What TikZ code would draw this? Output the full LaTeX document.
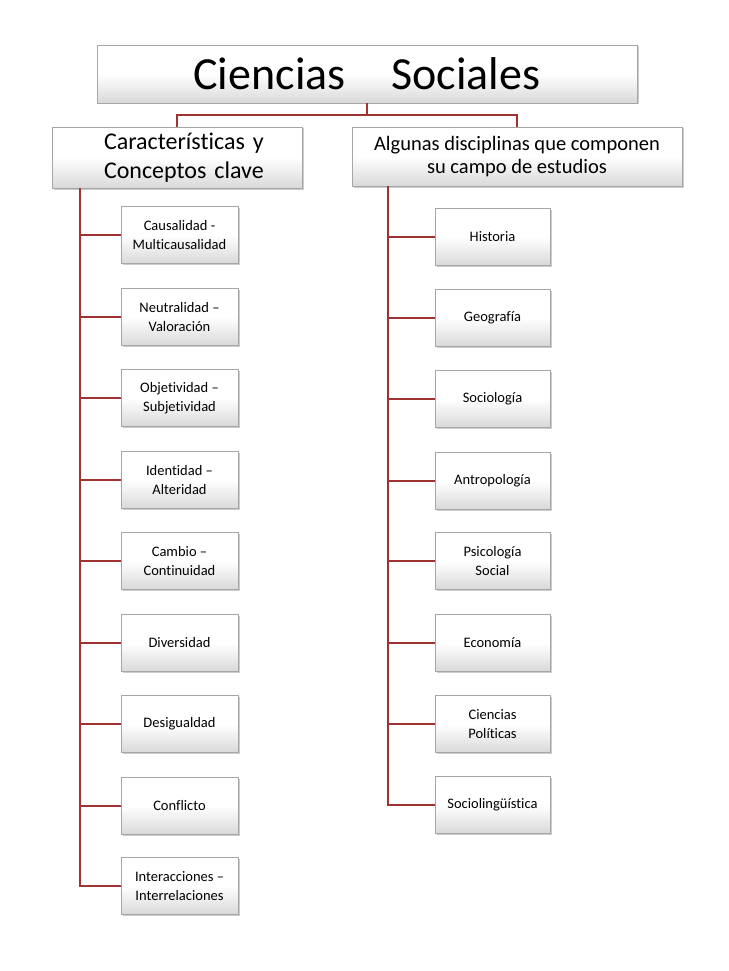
\documentclass[tikz,border=0pt]{standalone}
\usepackage{fontspec}
\setmainfont[Ligatures={NoCommon}]{Carlito}
\usetikzlibrary{shadows}
\begin{document}
\begin{tikzpicture}[x=1pt,y=-1pt,
  bx/.style={draw=gray!70,line width=0.8pt,top color=white,bottom color=gray!30,middle color=white,
    drop shadow={shadow xshift=1.5pt,shadow yshift=-1.5pt,opacity=0.4},inner sep=0pt,outer sep=0pt,align=center,font=\fontsize{14.5}{19}\selectfont},
  con/.style={draw={rgb,255:red,160;green,50;blue,50},line width=2pt}]
\useasboundingbox (0,0) rectangle (728,971);
\node[bx,minimum width=540,minimum height=58,font=\fontsize{46}{48}\selectfont] (t) at (367,74) {Ciencias\quad Sociales};
\node[bx,minimum width=250,minimum height=61,font=\fontsize{24}{29}\selectfont,text width=250,align=left] (l) at (177,157.5) {\hspace*{52pt}Características y\\\hspace*{52pt}Conceptos clave};
\node[bx,minimum width=330,minimum height=59,font=\fontsize{20.5}{23}\selectfont] (r) at (517,156.5) {Algunas disciplinas que componen\\su campo de estudios};
\coordinate (j) at (367,115);
\draw[con] (t.south) -- (j) -| (l.north);
\draw[con] (j) -| (r.north);
\coordinate (lt) at (80,188);
\coordinate (rt) at (388,186);
\foreach \n/\y/\txt in {1/235/{Causalidad -\\Multicausalidad},2/317/{Neutralidad –\\Valoración},3/398/{Objetividad –\\Subjetividad},4/480/{Identidad –\\Alteridad},5/561/{Cambio –\\Continuidad},6/643/{Diversidad},7/724/{Desigualdad},8/806/{Conflicto},9/886/{Interacciones –\\Interrelaciones}}{
  \node[bx,minimum width=117,minimum height=57] (a\n) at (179.5,\y) {\txt};
  \draw[con] (lt) |- (a\n.west);
}
\foreach \n/\y/\txt in {1/237/{Historia},2/318/{Geografía},3/399/{Sociología},4/481/{Antropología},5/561/{Psicología\\Social},6/643/{Economía},7/724/{Ciencias\\Políticas},8/805/{Sociolingüística}}{
  \node[bx,minimum width=115,minimum height=57] (b\n) at (492.5,\y) {\txt};
  \draw[con] (rt) |- (b\n.west);
}
\end{tikzpicture}
\end{document}
